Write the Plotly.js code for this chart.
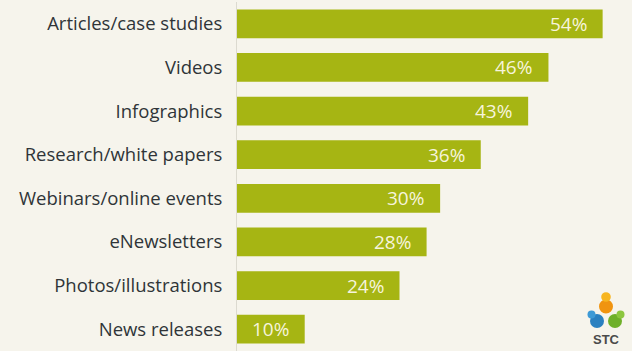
<!DOCTYPE html>
<html>
<head>
<meta charset="utf-8">
<script src="https://cdn.plot.ly/plotly-3.0.1.min.js"></script>
<style>
html,body{margin:0;padding:0;background:#f6f4ec;}
#chart{width:632px;height:351px;}
</style>
</head>
<body>
<div id="chart"></div>
<script>
var categories = ["Articles/case studies","Videos","Infographics","Research/white papers","Webinars/online events","eNewsletters","Photos/illustrations","News releases"];
var values = [54,46,43,36,30,28,24,10];
var valueLabels = ["54%","46%","43%","36%","30%","28%","24%","10%"];

var FONT = "'Open Sans', sans-serif";
var W = 632, H = 351, ML = 237, MR = 5, MT = 2, MB = 0;
var PW = W - ML - MR, PH = H - MT - MB;
function px(x){ return (x - ML) / PW; }
function py(y){ return (H - MB - y) / PH; }

var trace = {
  type: 'bar',
  orientation: 'h',
  x: values,
  y: categories,
  marker: {color: '#a6b513', line: {width: 0}},
  hoverinfo: 'none',
  showlegend: false
};

var annotations = values.map(function(v, i){
  return {
    x: v, y: categories[i], xref: 'x', yref: 'y',
    text: valueLabels[i], showarrow: false,
    xanchor: 'right', xshift: -14, yshift: 0,
    font: {family: FONT, size: 19, color: '#f6f4dc'}
  };
});
annotations.push({
  x: px(606), y: py(339), xref: 'paper', yref: 'paper',
  text: '<b>STC</b>', showarrow: false, xanchor: 'center', yanchor: 'middle',
  font: {family: "Arial, 'Liberation Sans', sans-serif", size: 13, color: '#4a4a4a'}
});

function circ(cx, cy, r, color){
  return {type: 'circle', xref: 'paper', yref: 'paper',
    x0: px(cx - r), x1: px(cx + r), y0: py(cy + r), y1: py(cy - r),
    fillcolor: color, line: {width: 0}, layer: 'above'};
}
var shapes = [
  circ(606, 306.5, 7, '#f09410'),
  circ(606, 297, 4.8, '#f7b520'),
  circ(597, 321, 7, '#2a80c0'),
  circ(591.5, 314.5, 4, '#3d9ad6'),
  circ(615, 321, 7, '#6fb02a'),
  circ(620.5, 314.5, 4, '#8cc63f')
];

var layout = {
  width: W, height: H,
  margin: {l: ML, r: MR, t: MT, b: MB, pad: 0},
  paper_bgcolor: '#f6f4ec',
  plot_bgcolor: '#f6f4ec',
  bargap: 0.34,
  xaxis: {range: [0, 57.6], showgrid: false, zeroline: false, showticklabels: false, showline: false, fixedrange: true},
  yaxis: {autorange: 'reversed', showgrid: false, zeroline: false,
    showline: true, linecolor: '#dcdad0', linewidth: 1,
    ticks: 'outside', ticklen: 10, tickcolor: 'rgba(0,0,0,0)',
    tickfont: {family: FONT, size: 18.5, color: '#2f3438'}, fixedrange: true},
  annotations: annotations,
  shapes: shapes
};

Plotly.newPlot('chart', [trace], layout, {displayModeBar: false, staticPlot: true});
</script>
</body>
</html>
